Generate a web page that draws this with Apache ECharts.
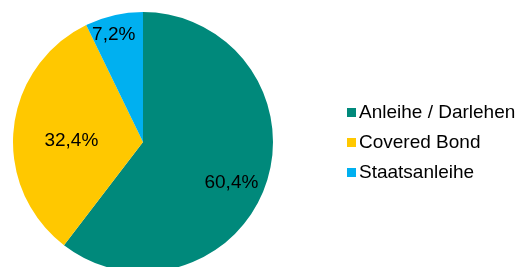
<!DOCTYPE html>
<html>
<head>
<meta charset="utf-8">
<script src="https://cdn.jsdelivr.net/npm/echarts@6/dist/echarts.min.js"></script>
<style>
  html, body { margin: 0; padding: 0; background: #fff; }
  #chart { width: 520px; height: 267px; }
</style>
</head>
<body>
<div id="chart"></div>
<script>
const categories = ["Anleihe / Darlehen", "Covered Bond", "Staatsanleihe"];
const values = [60.4, 32.4, 7.2];
const colors = ["#00897B", "#FFC800", "#00B0F0"];
// label nudges from the default inside position (Excel best-fit look)
const labelShift = [[24, 19], [-4, 6], [-14, -41]];

const chart = echarts.init(document.getElementById("chart"));

chart.setOption({
  animation: false,
  textStyle: { fontFamily: "Liberation Sans, Arial, sans-serif" },
  legend: {
    orient: "vertical",
    left: 342,
    top: 98,
    itemWidth: 9,
    itemHeight: 9,
    itemGap: 11,
    icon: "rect",
    selectedMode: false,
    textStyle: {
      fontSize: 19,
      color: "#000",
      padding: [0, 0, 0, -2],
      fontFamily: "Liberation Sans, Arial, sans-serif"
    },
    data: categories
  },
  series: [
    {
      type: "pie",
      center: [143, 142],
      radius: 130,
      startAngle: 90,
      clockwise: true,
      silent: true,
      itemStyle: { borderWidth: 0 },
      label: {
        show: true,
        position: "inside",
        fontSize: 19,
        color: "#000",
        fontFamily: "Liberation Sans, Arial, sans-serif",
        formatter: function (p) {
          return p.value.toFixed(1).replace(".", ",") + "%";
        }
      },
      labelLine: { show: false },
      labelLayout: function (p) {
        const s = labelShift[p.dataIndex];
        return { dx: s[0], dy: s[1] };
      },
      data: categories.map(function (name, i) {
        return { name: name, value: values[i], itemStyle: { color: colors[i] } };
      })
    }
  ]
});
</script>
</body>
</html>
